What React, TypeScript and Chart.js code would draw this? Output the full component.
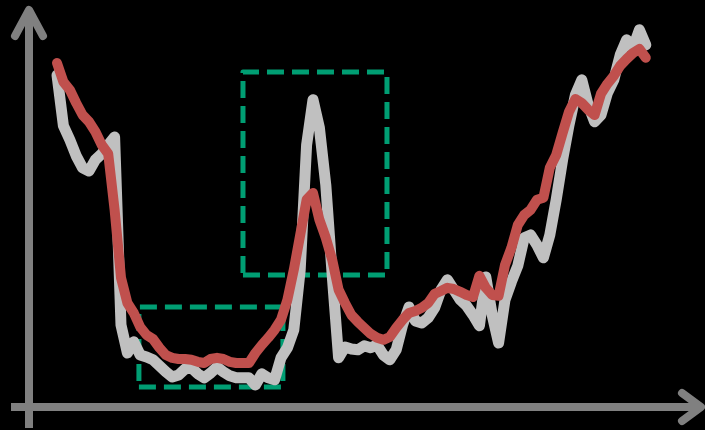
import { useEffect, useRef } from "react";
import { Chart, registerables } from "chart.js";

Chart.register(...registerables);

// sample index (x) for every measurement
const sampleIndex: number[] = Array.from({ length: 93 }, (_, i) => i);

// raw (noisy) signal
const rawSignal: number[] = [
  83, 70.3, 66.8, 62.8, 59.8, 59, 61.8, 63.3, 65.5, 67.5,
  20.5, 13.5, 16.3, 13, 12.5, 11.8, 10.3, 8.8, 7.5, 8,
  9.5, 9.8, 8.3, 7.3, 8.5, 10, 8.8, 7.8, 7.3, 7.3,
  7.3, 5.5, 8.3, 7.3, 6.8, 12.3, 14.8, 19.3, 34.3, 65.5,
  76.8, 69.8, 55.5, 33, 12.3, 15, 14.5, 14.3, 15.3, 14.8,
  15.5, 13, 11.8, 14.3, 20.5, 25, 21.5, 21, 22.3, 24.8,
  29.3, 31.8, 29.3, 26.8, 25.3, 23, 20.3, 32.5, 23, 16,
  26.8, 31.3, 35.3, 42.3, 43, 40.5, 37.3, 43, 51.8, 61.8,
  70.5, 78, 81.8, 75.5, 71.3, 73, 78.5, 81.8, 88, 91.8,
  89.8, 94.3, 90.5,
];

// smoothed signal
const smoothSignal: number[] = [
  86, 81.3, 79.3, 76, 73, 71.3, 68.8, 65.5, 63.3, 49.3,
  32.3, 26, 23.5, 20, 18, 17, 14.8, 13, 12.3, 12,
  12, 11.8, 11.3, 11, 12, 12.3, 12, 11.3, 11, 11,
  11, 13.5, 15.5, 17.3, 19.3, 21.8, 26.8, 34.3, 43, 51.8,
  53.5, 46.8, 42.3, 36.8, 29.3, 26, 23, 21.3, 19.8, 18.3,
  17.3, 16.8, 17.5, 19.8, 21.8, 23.5, 24, 24.8, 26, 28.3,
  29, 29.8, 29.5, 28.8, 28, 27.5, 32.8, 29.8, 28, 27.8,
  35.5, 39.8, 45.5, 48, 49.3, 51.8, 52.3, 59.8, 63, 68.5,
  73.8, 77, 76, 74.3, 73, 78.3, 80.8, 82.8, 85.3, 87,
  88.5, 89.5, 87.3,
];

// highlighted regions: [xStart, xEnd, yLow, yHigh]
const regionLow: number[] = [12.8, 35.3, 5, 25];
const regionPeak: number[] = [29.06, 51.56, 33, 83.75];

const axisX = -4.375;
const xRange: number[] = [-8.90625, 101.25];
const yRange: number[] = [-5.75, 101.75];

const AXIS_GRAY = "#808080";
const RAW_GRAY = "#c0c0c0";
const SMOOTH_RED = "#c0504d";
const BOX_GREEN = "#009e73";

const decorPlugin = {
  id: "decor",
  beforeDatasetsDraw(chart: any) {
    const { ctx, chartArea } = chart;
    const xs = chart.scales.x;
    const ys = chart.scales.y;
    ctx.save();

    // dashed highlight boxes
    ctx.strokeStyle = BOX_GREEN;
    ctx.lineWidth = 5;
    ctx.setLineDash([17, 8]);
    ctx.lineJoin = "round";
    ctx.lineCap = "butt";
    for (const r of [regionLow, regionPeak]) {
      const l = xs.getPixelForValue(r[0]);
      const rr = xs.getPixelForValue(r[1]);
      const b = ys.getPixelForValue(r[2]);
      const t = ys.getPixelForValue(r[3]);
      ctx.beginPath();
      ctx.moveTo(l, b);
      ctx.lineTo(rr, b);
      ctx.lineTo(rr, t);
      ctx.lineTo(l, t);
      ctx.closePath();
      ctx.stroke();
    }

    // axes with arrows
    ctx.setLineDash([]);
    ctx.strokeStyle = AXIS_GRAY;
    ctx.lineWidth = 8;
    const ax = xs.getPixelForValue(axisX);
    const ay = ys.getPixelForValue(0);
    const top = chartArea.top + 10;
    const right = chartArea.right - 4;
    ctx.lineCap = "butt";
    ctx.beginPath();
    ctx.moveTo(ax, chartArea.bottom - 2);
    ctx.lineTo(ax, top);
    ctx.moveTo(chartArea.left + 11, ay);
    ctx.lineTo(right, ay);
    ctx.stroke();

    ctx.lineCap = "round";
    ctx.lineJoin = "round";
    ctx.beginPath();
    ctx.moveTo(ax - 14, top + 26);
    ctx.lineTo(ax, top);
    ctx.lineTo(ax + 14, top + 26);
    ctx.moveTo(right - 19, ay - 14);
    ctx.lineTo(right, ay);
    ctx.lineTo(right - 19, ay + 14);
    ctx.stroke();

    ctx.restore();
  },
};

export default function App() {
  const canvasRef = useRef<HTMLCanvasElement | null>(null);

  useEffect(() => {
    if (!canvasRef.current) return;
    const chart = new Chart(canvasRef.current, {
      type: "line",
      data: {
        datasets: [
          {
            label: "smoothed",
            data: smoothSignal.map((v, i) => ({ x: sampleIndex[i], y: v })),
            borderColor: SMOOTH_RED,
            borderWidth: 10,
            borderCapStyle: "round",
            borderJoinStyle: "round",
            pointRadius: 0,
            tension: 0,
            fill: false,
            order: 0,
          },
          {
            label: "raw",
            data: rawSignal.map((v, i) => ({ x: sampleIndex[i], y: v })),
            borderColor: RAW_GRAY,
            borderWidth: 11,
            borderCapStyle: "round",
            borderJoinStyle: "round",
            pointRadius: 0,
            tension: 0,
            fill: false,
            order: 1,
          },
        ],
      },
      options: {
        animation: false,
        responsive: true,
        maintainAspectRatio: false,
        layout: { padding: 0 },
        plugins: {
          legend: { display: false },
          tooltip: { enabled: false },
          title: { display: false },
        },
        events: [],
        scales: {
          x: { type: "linear", display: false, min: xRange[0], max: xRange[1] },
          y: { type: "linear", display: false, min: yRange[0], max: yRange[1] },
        },
      } as any,
      plugins: [decorPlugin],
    });
    return () => chart.destroy();
  }, []);

  return (
    <div
      style={{
        position: "absolute",
        left: 0,
        top: 0,
        width: 705,
        height: 430,
        background: "#000",
      }}
    >
      <canvas ref={canvasRef} />
    </div>
  );
}
